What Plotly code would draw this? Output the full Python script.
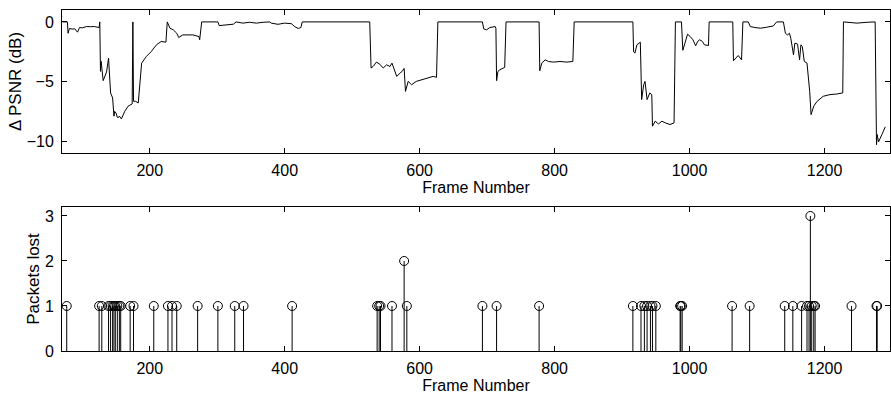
import plotly.graph_objects as go

# ---- Top panel: delta PSNR per frame ----
psnr_frames = [71, 78, 79, 81, 85, 89, 93, 96, 100, 106, 112, 118, 125, 126, 127, 128, 131, 136, 139,
               142, 145, 147, 148, 150, 152, 153, 155, 158, 163, 168, 174, 175, 176, 179, 183, 186, 188,
               195, 202, 210, 217, 224, 226, 230, 235, 240, 243, 249, 264, 273, 274, 277, 301, 303, 314,
               324, 328, 338, 348, 358, 368, 378, 380, 390, 400, 410, 415, 420, 424, 426, 526, 528, 531,
               536, 541, 546, 551, 556, 559, 562, 566, 571, 574, 577, 579, 583, 588, 595, 603, 613, 620,
               625, 627, 693, 695, 699, 704, 712, 713, 714, 716, 719, 724, 726, 728, 777, 778, 781, 786,
               791, 798, 808, 818, 827, 829, 916, 917, 919, 922, 927, 929, 932, 934, 937, 941, 944, 945,
               949, 954, 959, 964, 971, 977, 979, 988, 990, 993, 997, 1001, 1005, 1009, 1012, 1015, 1019,
               1022, 1028, 1029, 1064, 1065, 1068, 1072, 1077, 1079, 1087, 1090, 1097, 1105, 1114, 1124,
               1129, 1139, 1142, 1145, 1148, 1150, 1154, 1156, 1160, 1163, 1165, 1167, 1170, 1174, 1178,
               1180, 1184, 1189, 1198, 1208, 1218, 1227, 1228, 1233, 1241, 1248, 1263, 1275, 1277, 1278,
               1280, 1282, 1285, 1290, 1295, 1297]
psnr_values = [0.0, 0.0, -0.95, -0.55, -0.6, -0.58, -0.86, -0.47, -0.5, -0.39, -0.4, -0.39, -0.47, 0.0,
               -4.15, -3.3, -4.93, -4.2, -3.04, -5.96, -6.38, -7.91, -7.5, -7.64, -8.0, -8.05, -7.9, -8.14,
               -7.5, -7.07, -6.88, 0.0, -6.66, -6.66, -6.8, -4.6, -3.46, -2.9, -2.5, -1.92, -1.64, -1.7, 0.0,
               -0.53, -0.67, -0.95, -1.31, -1.09, -1.09, -1.23, -1.5, 0.0, 0.0, -0.31, -0.25, -0.19, 0.0,
               -0.1, -0.03, -0.1, -0.03, 0.0, -0.1, -0.2, -0.1, -0.15, -0.4, -0.55, -0.47, 0.0, 0.0, -3.87,
               -3.74, -3.37, -3.55, -3.87, -3.6, -3.74, -3.46, -4.01, -4.57, -4.29, -4.15, -3.9, -5.83,
               -4.99, -5.27, -4.99, -4.85, -4.7, -4.57, -4.65, 0.0, 0.0, -0.58, -0.67, -0.47, -0.39, -0.53,
               -4.93, -4.15, -4.01, -3.87, -3.82, 0.0, 0.0, -4.1, -3.46, -3.18, -3.32, -3.37, -3.32, -3.37,
               -3.32, 0.0, 0.0, -2.48, -2.62, -1.92, -1.7, -6.52, -5.27, -4.99, -6.52, -5.96, -6.1, -8.75,
               -8.33, -8.56, -8.33, -8.47, -8.61, -8.47, 0.0, 0.0, -2.38, -1.8, -1.03, -1.23, -1.5, -2.0,
               -1.64, -1.5, -1.64, -1.92, -1.98, 0.0, 0.0, -3.26, -3.04, -2.82, -3.18, 0.0, 0.0, -0.39,
               -0.47, -0.53, -0.45, -0.34, 0.0, 0.0, -0.95, -1.09, -0.95, -1.37, -2.76, -1.78, -1.86, -3.18,
               -1.92, -2.06, -3.32, -3.46, -5.83, -7.78, -7.07, -6.66, -6.24, -6.1, -6.05, -5.96, 0.0, -0.03,
               -0.1, -0.1, -0.03, 0.0, -10.3, -9.45, -10.07, -9.86, -9.45, -8.8]

# ---- Bottom panel: packets lost per frame ----
loss_frames = [77, 125, 129, 139, 142, 145, 147, 149, 152, 155, 157, 171, 176, 206, 227, 233, 240,
               271, 301, 326, 339, 411, 537, 540, 542, 559, 577, 581, 693, 714, 777, 916, 928, 933,
               937, 942, 945, 950, 986, 987, 989, 1063, 1089, 1141, 1153, 1166, 1174, 1177, 1179,
               1181, 1184, 1186, 1240, 1277, 1278]
loss_counts = [1, 1, 1, 1, 1, 1, 1, 1, 1, 1, 1, 1, 1, 1, 1, 1, 1,
               1, 1, 1, 1, 1, 1, 1, 1, 1, 2, 1, 1, 1, 1, 1, 1, 1,
               1, 1, 1, 1, 1, 1, 1, 1, 1, 1, 1, 1, 1, 1, 3,
               1, 1, 1, 1, 1, 1]

x_ticks = [200, 400, 600, 800, 1000, 1200]
psnr_ticks = [0, -5, -10]
loss_ticks = [0, 1, 2, 3]
x_label = "Frame Number"
psnr_label = "\u0394 PSNR (dB)"
loss_label = "Packets lost"

FONT = "Liberation Sans, Arial, Helvetica, sans-serif"

fig = go.Figure()

fig.add_trace(go.Scatter(x=psnr_frames, y=psnr_values, mode="lines",
                         line=dict(color="black", width=1), xaxis="x", yaxis="y",
                         showlegend=False, hoverinfo="skip"))

stem_x, stem_y = [], []
for f, c in zip(loss_frames, loss_counts):
    stem_x += [f, f, None]
    stem_y += [0, c, None]
fig.add_trace(go.Scatter(x=stem_x, y=stem_y, mode="lines",
                         line=dict(color="black", width=1), xaxis="x2", yaxis="y2",
                         showlegend=False, hoverinfo="skip"))
fig.add_trace(go.Scatter(x=loss_frames, y=loss_counts, mode="markers",
                         marker=dict(symbol="circle-open", size=9, color="black",
                                     line=dict(color="black", width=1)),
                         xaxis="x2", yaxis="y2", showlegend=False, cliponaxis=False))

axis_common = dict(showline=True, linecolor="black", linewidth=1, mirror="ticks",
                   ticks="inside", ticklen=5, tickcolor="black", tickwidth=1,
                   showgrid=False, zeroline=False, automargin=False,
                   tickfont=dict(family=FONT, size=16, color="black"))

XTITLE_FONT = dict(family=FONT, size=16, color="black")
YTITLE_FONT = dict(family=FONT, size=17, color="black")
XR = [70, 1297]
fig.update_layout(
    width=891, height=394,
    margin=dict(l=62, r=1, t=10, b=43, autoexpand=False),
    paper_bgcolor="white", plot_bgcolor="white",
    font=dict(family=FONT, size=16, color="black"),
    xaxis=dict(domain=[0, 1], range=XR, tickvals=x_ticks, anchor="y",
               title=dict(text=x_label, standoff=1, font=XTITLE_FONT),
               ticklabelstandoff=3, **axis_common),
    yaxis=dict(domain=[0.5806, 1], range=[-11, 1], tickvals=psnr_ticks, anchor="x",
               title=dict(text=psnr_label, standoff=0, font=YTITLE_FONT),
               ticklabelstandoff=4, **axis_common),
    xaxis2=dict(domain=[0, 1], range=XR, tickvals=x_ticks, anchor="y2",
                title=dict(text=x_label, standoff=1, font=XTITLE_FONT),
                ticklabelstandoff=3, **axis_common),
    yaxis2=dict(domain=[0, 0.4223], range=[0, 3.2], tickvals=loss_ticks, anchor="x2",
                title=dict(text=loss_label, standoff=0, font=YTITLE_FONT),
                ticklabelstandoff=4, **axis_common),
)

fig.write_html("out.html", config={"displayModeBar": False},
               post_script="document.body.style.margin='0';document.body.style.overflow='hidden';")
